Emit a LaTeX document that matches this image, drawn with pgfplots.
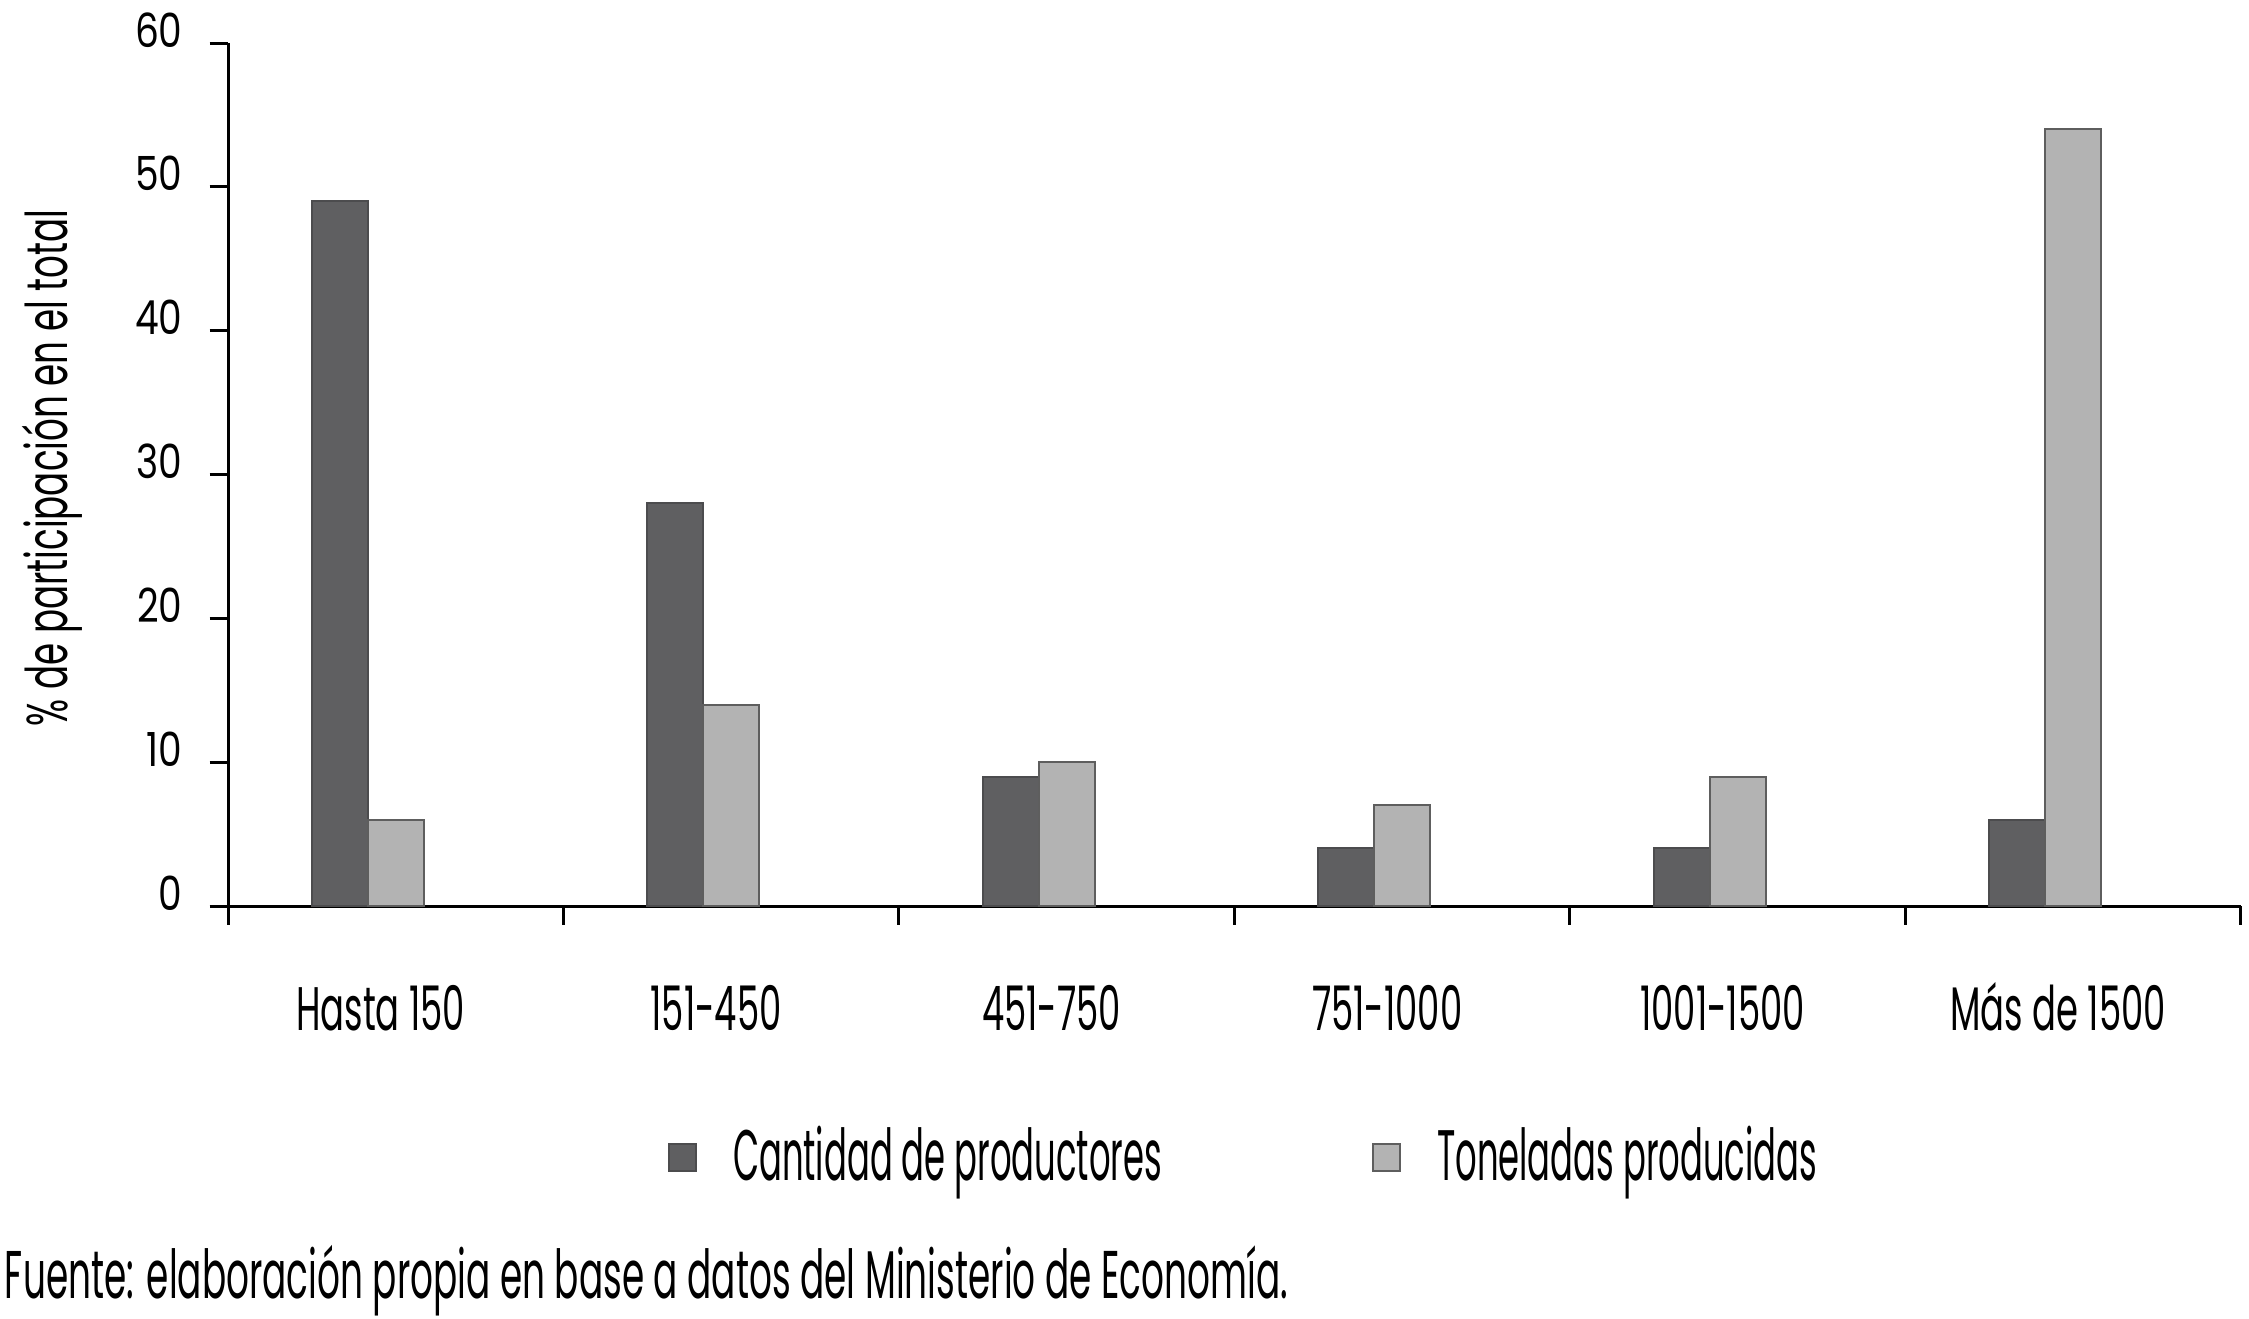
\documentclass[border=0pt]{standalone}
\usepackage{fontspec}
\setmainfont{Poppins}[FakeStretch=0.5]
\newfontfamily\tickfont{Poppins}[FakeStretch=0.8]
\newfontfamily\xlabfont{Poppins}[FakeStretch=0.575]
\newfontfamily\ylabfont{Poppins}[FakeStretch=0.62]
\newfontfamily\legfont{Poppins}[FakeStretch=0.473]
\newfontfamily\notefont{Poppins}[FakeStretch=0.531]
\usepackage{pgfplots}
\pgfplotsset{compat=1.18}
\definecolor{darkbar}{HTML}{5F5F61}
\definecolor{darkedge}{HTML}{4C4C4E}
\definecolor{lightbar}{HTML}{B3B3B3}
\definecolor{lightedge}{HTML}{5E5E5E}
\begin{document}
\begin{tikzpicture}
\useasboundingbox (-45.6pt,-82.4pt) rectangle (404.2pt,181.2pt);
\begin{axis}[
  at={(0,0)}, anchor=south west,
  scale only axis, width=402.6pt, height=172.6pt,
  xmin=-0.5, xmax=5.5, ymin=0, ymax=60,
  axis x line=bottom, axis y line=left,
  axis line style={-, line width=0.6pt, black},
  tick align=outside, major tick length=3.7pt,
  tick style={line width=0.6pt, black},
  xtick={-0.5,0.5,...,5.5}, xticklabels={},
  ytick={0,10,...,60},
  /pgf/number format/assume math mode=true,
  yticklabel style={font=\tickfont\fontsize{9.4}{10}\selectfont, anchor=base east, inner sep=0pt, xshift=-5.2pt, yshift=-0.8pt},
  extra x ticks={-0.045,0.955,1.955,2.955,3.955,4.955},
  extra x tick labels={Hasta 150,151-450,451-750,751-1000,1001-1500,Más de 1500},
  extra x tick style={major tick length=0pt, tick label style={font=\xlabfont\fontsize{12.3}{14}\selectfont, anchor=base, inner sep=0pt, yshift=-24.8pt}},
  ylabel={\% de participación en el total},
  every axis y label/.style={at={(axis description cs:-0.0874,0.5075)}, rotate=90, anchor=center, font=\ylabfont\fontsize{11.5}{13}\selectfont},
  legend columns=2,
  legend style={at={(axis description cs:0.5065,-0.291)}, anchor=center, draw=none, fill=none,
    font=\legfont\fontsize{14.3}{16}\selectfont,
    /tikz/every even column/.append style={column sep=40pt}},
  legend image code/.code={\draw[#1] (0pt,-2.7pt) rectangle (5.4pt,2.7pt); \path (10.6pt,0pt);},
]
\addplot[ybar, bar width=0.1667, bar shift=-0.1667, fill=darkbar, draw=darkedge, line width=0.4pt]
  coordinates {(0,49) (1,28) (2,9) (3,4) (4,4) (5,6)};
\addlegendentry{Cantidad de productores}
\addplot[ybar, bar width=0.1667, bar shift=0, fill=lightbar, draw=lightedge, line width=0.4pt]
  coordinates {(0,6) (1,14) (2,10) (3,7) (4,9) (5,54)};
\addlegendentry{Toneladas producidas}
\end{axis}
\node[anchor=base west, inner sep=0pt, font=\notefont\fontsize{13.5}{15}\selectfont] at (-44.8pt,-78.4pt) {Fuente: elaboración propia en base a datos del Ministerio de Economía.};
\end{tikzpicture}
\end{document}
